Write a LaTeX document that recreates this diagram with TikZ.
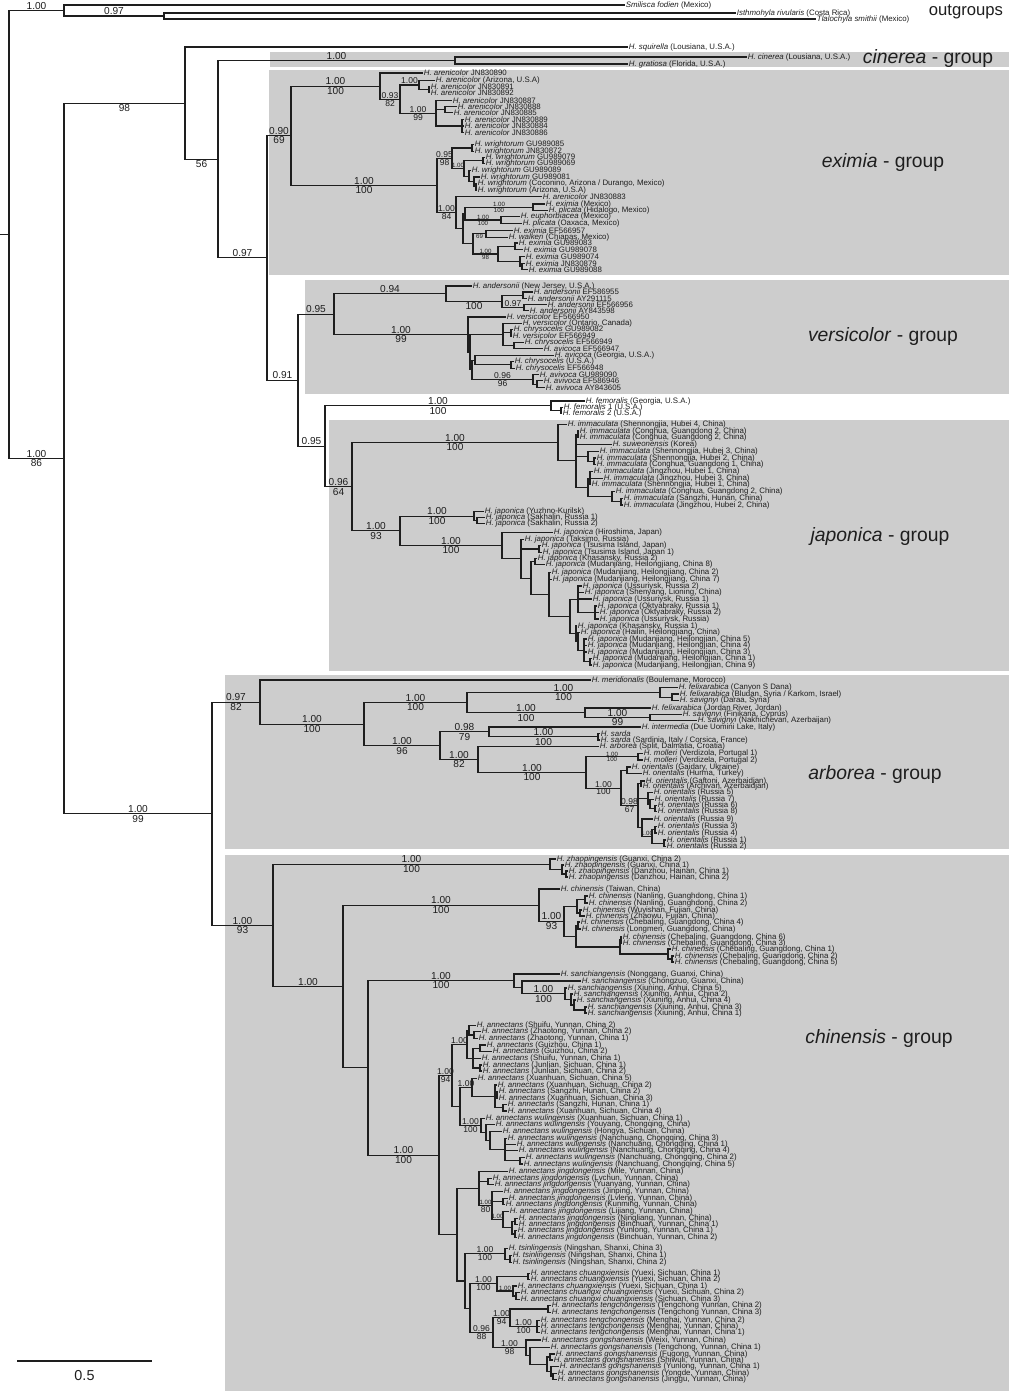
\documentclass[tikz,border=0pt]{standalone}
\usepackage{fontspec}
\setmainfont{Liberation Sans}
\usetikzlibrary{calc}
\definecolor{boxgray}{RGB}{205,205,205}
\definecolor{ink}{RGB}{30,30,30}

\tikzset{
  branch/.style={draw=ink, line width=0.8pt},
  leaf/.style={anchor=west, inner sep=0.5pt, text=ink, font=\fontsize{5.9}{6.5}\selectfont},
  bv/.style={inner sep=0.7pt, text=ink, font=\fontsize{7.6}{8}\selectfont},
  mv/.style={inner sep=0.5pt, text=ink, font=\fontsize{6.4}{7}\selectfont},
  sv/.style={inner sep=0.4pt, text=ink, font=\fontsize{4.6}{5}\selectfont},
  grp/.style={text=ink, font=\fontsize{14.5}{17}\selectfont},
  groupbox/.style={fill=boxgray, draw=none}
}

% leaf: name, x, y, italic part, rest
\newcommand\tip[5]{\coordinate (#1) at (#2,#3); \node[leaf] (#1-l) at (#1) {\textit{#4} #5};}
% clade: name, x, first child, last child (y halfway)
\newcommand\clade[4]{\coordinate (#1-m) at ($(#3)!.5!(#4)$); \coordinate (#1) at (#1-m -| #2,0); \draw[branch] (#3) -| (#1) |- (#4);}
% extra child hanging on a clade
\newcommand\twig[2]{\draw[branch] (#1) |- (#2);}
% support values on a branch: [style] parent, child, above, below
\newcommand\bsv[5][bv]{\path ($(#2|-#3)!.5!(#3)$) node[#1,above] (#3-a) {#4} node[#1,below] (#3-b) {#5};}

\begin{document}
\begin{tikzpicture}[x=0.75pt,y=0.75pt,yscale=-1,xscale=1]
\useasboundingbox (0,0) rectangle (1010,1392);

%Group boxes
\fill[groupbox] (270,52) rectangle (1009,67);
\fill[groupbox] (269,70) rectangle (1009,275);
\fill[groupbox] (305,280) rectangle (1009,394);
\fill[groupbox] (329,420) rectangle (1009,671);
\fill[groupbox] (225,675) rectangle (1009,849);
\fill[groupbox] (225,855) rectangle (1009,1391);

%Outgroups
\tip{o1}{625}{5}{Smilisca fodien}{(Mexico)}
\tip{o2}{736}{13}{Isthmohyla rivularis}{(Costa Rica)}
\tip{o3}{816}{19}{Tlalochyla smithii}{(Mexico)}
\clade{og1}{164}{o2}{o3}
\clade{og}{64}{o1}{og1}

%cinerea
\tip{sq}{628}{47}{H. squirella}{(Lousiana, U.S.A.)}
\tip{ci}{747}{57}{H. cinerea}{(Lousiana, U.S.A.)}
\tip{gr}{628}{64}{H. gratiosa}{(Florida, U.S.A.)}
\clade{cin}{455}{ci}{gr}

%eximia
\tip{e1}{423}{73}{H. arenicolor}{JN830890}
\tip{e2}{435}{80.3}{H. arenicolor}{(Arizona, U.S.A)}
\tip{e3}{430}{86.7}{H. arenicolor}{JN830891}
\tip{e4}{430}{92.7}{H. arenicolor}{JN830892}
\tip{e5}{452}{100.7}{H. arenicolor}{JN830887}
\tip{e6}{457}{106.3}{H. arenicolor}{JN830888}
\tip{e7}{453}{112.7}{H. arenicolor}{JN830885}
\tip{e8}{464}{119.7}{H. arenicolor}{JN830889}
\tip{e9}{464}{126}{H. arenicolor}{JN830884}
\tip{e10}{464}{132.3}{H. arenicolor}{JN830886}
\tip{e11}{474}{144.7}{H. wrightorum}{GU989085}
\tip{e12}{474}{151.3}{H. wrightorum}{JN830872}
\tip{e13}{485}{157.3}{H. wrightorum}{GU989079}
\tip{e14}{485}{163.7}{H. wrightorum}{GU989069}
\tip{e15}{471}{170.3}{H. wrightorum}{GU989089}
\tip{e16}{480}{177}{H. wrightorum}{GU989081}
\tip{e17}{477}{183.7}{H. wrightorum}{(Coconino, Arizona / Durango, Mexico)}
\tip{e18}{477}{190}{H. wrightorum}{(Arizona, U.S.A)}
\tip{e19}{542}{196.3}{H. arenicolor}{JN830883}
\tip{e20}{545}{204}{H. eximia}{(Mexico)}
\tip{e21}{548}{210.7}{H. plicata}{(Hidalogo, Mexico)}
\tip{e22}{520}{216.7}{H. euphorbiacea}{(Mexico)}
\tip{e23}{522}{223.3}{H. plicata}{(Oaxaca, Mexico)}
\tip{e24}{513}{230.3}{H. eximia}{EF566957}
\tip{e25}{508}{237.3}{H. walkeri}{(Chiapas, Mexico)}
\tip{e26}{518}{243}{H. eximia}{GU989083}
\tip{e27}{523}{249.7}{H. eximia}{GU989078}
\tip{e28}{525}{256.7}{H. eximia}{GU989074}
\tip{e29}{525}{263.3}{H. eximia}{JN830879}
\tip{e30}{528}{269.7}{H. eximia}{GU989088}
\clade{exc2}{429}{e3}{e4}
\clade{exc}{419}{e2}{exc2}
\clade{exf}{445}{e6}{e7}
\clade{exg}{462}{e8}{e10} \twig{exg}{e9}
\clade{exd}{436}{e5}{exg} \twig{exd}{exf}
\clade{exb}{400}{exc}{exd}
\clade{exa}{380}{e1}{exb}
\clade{wr1}{472}{e11}{e12}
\clade{wr3}{483}{e13}{e14}
\clade{wr6}{476}{e17}{e18}
\clade{wr5}{474}{e16}{wr6}
\clade{wr4}{469}{e15}{wr5}
\clade{wr2}{464}{wr3}{wr4}
\clade{wr}{452}{wr1}{wr2}
\clade{em4}{533}{e20}{e21}
\clade{em5}{501}{e22}{e23}
\clade{em3}{465}{em4}{em5}
\clade{em7}{486}{e24}{e25}
\clade{em9}{515}{e26}{e27}
\clade{em11}{522}{e29}{e30}
\clade{em10}{520}{e28}{em11}
\clade{em8}{498}{em9}{em10}
\clade{em6}{473}{em7}{em8}
\clade{em2}{463}{em3}{em6}
\clade{emx}{456}{e19}{em2}
\clade{exw}{437}{wr}{emx}
\clade{ext}{291}{exa}{exw}

%versicolor
\tip{v1}{472}{286}{H. andersonii}{(New Jersey, U.S.A.)}
\tip{v2}{533}{292}{H. andersonii}{EF586955}
\tip{v3}{527}{298.2}{H. andersonii}{AY291115}
\tip{v4}{547}{304.4}{H. andersonii}{EF566956}
\tip{v5}{529}{310.6}{H. andersonii}{AY843598}
\tip{v6}{506}{317}{H. versicolor}{EF566950}
\tip{v7}{522}{323.3}{H. versicolor}{(Ontario, Canada)}
\tip{v8}{513}{329.7}{H. chrysocelis}{GU989082}
\tip{v9}{512}{336.1}{H. versicolor}{EF566949}
\tip{v10}{524}{342.5}{H. chrysocelis}{EF566949}
\tip{v11}{543}{348.9}{H. avicoca}{EF566947}
\tip{v12}{554}{355.3}{H. avicoca}{(Georgia, U.S.A.)}
\tip{v13}{514}{361.7}{H. chrysocelis}{(U.S.A.)}
\tip{v14}{515}{368.1}{H. chrysocelis}{EF566948}
\tip{v15}{539}{374.5}{H. avivoca}{GU989090}
\tip{v16}{543}{380.9}{H. avivoca}{EF586946}
\tip{v17}{545}{387.3}{H. avivoca}{AY843605}
\clade{an3v}{523}{v2}{v3}
\clade{an4v}{524}{v4}{v5}
\clade{an2v}{502}{an3v}{an4v}
\clade{anv}{446}{v1}{an2v}
\clade{vA1b}{511}{v8}{v9}
\clade{vA1c}{514}{v10}{v11}
\clade{vA1}{503}{v7}{vA1c} \twig{vA1}{vA1b}
\clade{vA2p}{511}{v13}{v14}
\clade{vA2}{475}{v12}{vA2p}
\clade{vsB2}{537}{v16}{v17}
\clade{vsB}{533}{v15}{vsB2}
\clade{vsR2}{472}{vA2}{vsB}
\clade{vsR}{470}{vA1}{vsR2}
\clade{vs}{468}{v6}{vsR}
\clade{vg}{334}{anv}{vs}

%femoralis
\tip{f1}{585}{401}{H. femoralis}{(Georgia, U.S.A.)}
\tip{f2}{563}{407.3}{H. femoralis}{1 (U.S.A.)}
\tip{f3}{562}{413.7}{H. femoralis}{2 (U.S.A.)}
\clade{fe2}{561}{f2}{f3}
\clade{fe}{551}{f1}{fe2}

%japonica
\tip{i1}{567}{424.3}{H. immaculata}{(Shennongjia, Hubei 4, China)}
\tip{i2}{579}{431}{H. immaculata}{(Conghua, Guangdong 2, China)}
\tip{i3}{579}{437.8}{H. immaculata}{(Conghua, Guangdong 2, China)}
\tip{i4}{612}{444.5}{H. suweonensis}{(Korea)}
\tip{i5}{599}{451.2}{H. immaculata}{(Shennongjia, Hubej 3, China)}
\tip{i6}{596}{458}{H. immaculata}{(Shennongjia, Hubei 2, China)}
\tip{i7}{596}{464.7}{H. immaculata}{(Conghua, Guangdong 1, China)}
\tip{i8}{593}{471.4}{H. immaculata}{(Jingzhou, Hubei 1, China)}
\tip{i9}{603}{478.1}{H. immaculata}{(Jingzhou, Hubei 3, China)}
\tip{i10}{591}{484.9}{H. immaculata}{(Shennongjia, Hubei 1, China)}
\tip{i11}{615}{491.6}{H. immaculata}{(Conghua, Guangdong 2, China)}
\tip{i12}{623}{498.3}{H. immaculata}{(Sangzhi, Hunan, China)}
\tip{i13}{623}{505}{H. immaculata}{(Jingzhou, Hubei 2, China)}
\clade{im3}{578}{i2}{i3}
\clade{im4b}{594}{i6}{i7}
\clade{im4}{588}{i5}{im4b}
\clade{im5}{590}{i8}{i10} \twig{im5}{i9}
\clade{im7}{621}{i12}{i13}
\clade{im6}{612}{i11}{im7}
\clade{im8}{588}{im5}{im6}
\clade{im2}{576}{im3}{im8} \twig{im2}{i4} \twig{im2}{im4}
\clade{im}{558}{i1}{im2}

\tip{j1}{484}{511.7}{H. japonica}{(Yuzhno-Kurilsk)}
\tip{j2}{485}{517.7}{H. japonica}{(Sakhalin, Russia 1)}
\tip{j3}{485}{523.7}{H. japonica}{(Sakhalin, Russia 2)}
\tip{j4}{553}{532.7}{H. japonica}{(Hiroshima, Japan)}
\tip{j5}{524}{539.3}{H. japonica}{(Taksimo, Russia)}
\tip{j6}{541}{545.7}{H. japonica}{(Tsusima Island, Japan)}
\tip{j7}{542}{552.3}{H. japonica}{(Tsusima Island, Japan 1)}
\tip{j8}{537}{558.7}{H. japonica}{(Khasansky, Russia 2)}
\tip{j9}{545}{564.7}{H. japonica}{(Mudanjiang, Heilongjiang, China 8)}
\tip{j10}{551}{572.7}{H. japonica}{(Mudanjiang, Heilongjiang, China 2)}
\tip{j11}{552}{579.3}{H. japonica}{(Mudanjiang, Heilongjiang, China 7)}
\tip{j12}{582}{586}{H. japonica}{(Ussuriysk, Russia 2)}
\tip{j13}{584}{592.3}{H. japonica}{(Shenyang, Lioning, China)}
\tip{j14}{592}{599}{H. japonica}{(Ussuriysk, Russia 1)}
\tip{j15}{597}{606}{H. japonica}{(Oktyabraky, Russia 1)}
\tip{j16}{599}{612.3}{H. japonica}{(Oktyabraky, Russia 2)}
\tip{j17}{599}{619}{H. japonica}{(Ussuriysk, Russia)}
\tip{j18}{577}{626}{H. japonica}{(Khasansky, Russia 1)}
\tip{j19}{580}{632.3}{H. japonica}{(Hailin, Heilongjiang, China)}
\tip{j20}{587}{639}{H. japonica}{(Mudanjiang, Heilongjian, China 5)}
\tip{j21}{587}{645.3}{H. japonica}{(Mudanjiang, Heilongjian, China 4)}
\tip{j22}{587}{652}{H. japonica}{(Mudanjiang, Heilongjian, China 3)}
\tip{j23}{592}{658.7}{H. japonica}{(Mudanjiang, Heilongjian, China 1)}
\tip{j24}{592}{665}{H. japonica}{(Mudanjiang, Heilongjian, China 9)}
\clade{jp1b}{477}{j2}{j3}
\clade{jp1}{474}{j1}{jp1b}
\clade{jp3a}{539}{j6}{j7}
\clade{jp5a}{535}{j8}{j9}
\clade{jp8c}{595}{j15}{j17} \twig{jp8c}{j16}
\clade{jp8}{578}{j12}{jp8c} \twig{jp8}{j13} \twig{jp8}{j14}
\clade{jp9c}{590}{j23}{j24}
\clade{jp9b}{584}{j20}{jp9c} \twig{jp9b}{j21} \twig{jp9b}{j22}
\clade{jp9a}{578}{j19}{jp9b}
\clade{jp9}{576}{j18}{jp9a}
\clade{jp7}{570}{jp8}{jp9}
\clade{jp6}{549}{j10}{jp7} \twig{jp6}{j11}
\clade{jp5}{531}{jp5a}{jp6}
\clade{jp3}{521}{j5}{jp5} \twig{jp3}{jp3a}
\clade{jp2}{502}{j4}{jp3}
\clade{jp}{400}{jp1}{jp2}
\clade{jap}{352}{im}{jp}
\clade{jfem}{325}{fe}{jap}

%arborea
\tip{a1}{591}{680}{H. meridionalis}{(Boulemane, Morocco)}
\tip{a2}{678}{687.3}{H. felixarabica}{(Canyon S Dana)}
\tip{a3}{679}{694}{H. felixarabica}{(Bludan, Syria / Karkom, Israel)}
\tip{a4}{679}{700.7}{H. savignyi}{(Daraa, Syria)}
\tip{a5}{651}{708}{H. felixarabica}{(Jordan River, Jordan)}
\tip{a6}{682}{714.3}{H. savignyi}{(Finikaria, Cyprus)}
\tip{a7}{697}{720.7}{H. savignyi}{(Nakhichevan, Azerbaijan)}
\tip{a8}{641}{727}{H. intermedia}{(Due Uomini Lake, Italy)}
\tip{a9}{600}{733.7}{H. sarda}{}
\tip{a10}{600}{740}{H. sarda}{(Sardinia, Italy / Corsica, France)}
\tip{a11}{599}{746.7}{H. arborea}{(Split, Dalmatia, Croatia)}
\tip{a12}{643}{753.7}{H. molleri}{(Verdizola, Portugal 1)}
\tip{a13}{643}{760}{H. molleri}{(Verdizela, Portugal 2)}
\tip{a14}{631}{767}{H. orientalis}{(Gaidary, Ukraine)}
\tip{a15}{642}{773.7}{H. orientalis}{(Hurma, Turkey)}
\tip{a16}{645}{781}{H. orientalis}{(Gaftoni, Azerbaidjan)}
\tip{a17}{642}{786.7}{H. orientalis}{(Archivan, Azerbaidjan)}
\tip{a18}{653}{792.7}{H. orientalis}{(Russia 5)}
\tip{a19}{654}{799.3}{H. orientalis}{(Russia 7)}
\tip{a20}{657}{805.7}{H. orientalis}{(Russia 6)}
\tip{a21}{657}{811.7}{H. orientalis}{(Russia 8)}
\tip{a22}{653}{819}{H. orientalis}{(Russia 9)}
\tip{a23}{657}{826.7}{H. orientalis}{(Russia 3)}
\tip{a24}{657}{833}{H. orientalis}{(Russia 4)}
\tip{a25}{666}{840}{H. orientalis}{(Russia 1)}
\tip{a26}{666}{846.7}{H. orientalis}{(Russia 2)}
\clade{ar3a2}{672}{a3}{a4}
\clade{ar3a}{660}{a2}{ar3a2}
\clade{ar3b2}{650}{a6}{a7}
\clade{ar3b}{585}{a5}{ar3b2}
\clade{ar3}{467}{ar3a}{ar3b}
\clade{ar5b}{598}{a9}{a10}
\clade{ar5}{489}{a8}{ar5b}
\clade{ar7a}{638}{a12}{a13}
\clade{ar8}{627}{a14}{a15}
\clade{ar9a}{641}{a16}{a17}
\clade{ar9b3}{655}{a20}{a21}
\clade{ar9b2}{650}{a19}{ar9b3}
\clade{ar9b}{648}{a18}{ar9b2}
\clade{ar9c3}{655}{a23}{a24}
\clade{ar9c4}{664}{a25}{a26}
\clade{ar9c2}{652}{ar9c3}{ar9c4}
\clade{ar9c}{642}{a22}{ar9c2}
\clade{ar9}{638}{ar9a}{ar9c} \twig{ar9}{ar9b}
\clade{ar7b}{621}{ar8}{ar9}
\clade{ar7}{586}{ar7a}{ar7b}
\clade{ar6}{478}{a11}{ar7}
\clade{ar4}{440}{ar5}{ar6}
\clade{ar2}{364}{ar3}{ar4}
\clade{ar}{260}{a1}{ar2}

%chinensis
\tip{z1}{556}{859}{H. zhaopingensis}{(Guanxi, China 2)}
\tip{z2}{564}{865}{H. zhaopingensis}{(Guanxi, China 1)}
\tip{z3}{568}{871}{H. zhaopingensis}{(Danzhou, Hainan, China 1)}
\tip{z4}{568}{877}{H. zhaopingensis}{(Danzhou, Hainan, China 2)}
\clade{zC}{566}{z3}{z4}
\clade{zB}{562}{z2}{zC}
\clade{zA}{550}{z1}{zB}

\tip{c1}{560}{889}{H. chinensis}{(Taiwan, China)}
\tip{c2}{588}{896}{H. chinensis}{(Nanling, Guanghdong, China 1)}
\tip{c3}{588}{903}{H. chinensis}{(Nanling, Guanghdong, China 2)}
\tip{c4}{582}{910}{H. chinensis}{(Wuyishan, Fujian, China)}
\tip{c5}{585}{916}{H. chinensis}{(Zhaowu, Fujian, China)}
\tip{c6}{580}{922}{H. chinensis}{(Chebaling, Guangdong, China 4)}
\tip{c7}{581}{929}{H. chinensis}{(Longmen, Guangdong, China)}
\tip{c8}{622}{937}{H. chinensis}{(Chebaling, Guangdong, China 6)}
\tip{c9}{622}{943}{H. chinensis}{(Chebaling, Guangdong, China 3)}
\tip{c10}{671}{949}{H. chinensis}{(Chebaling, Guangdong, China 1)}
\tip{c11}{674}{956}{H. chinensis}{(Chebaling, Guangdong, China 2)}
\tip{c12}{674}{962}{H. chinensis}{(Chebaling, Guangdong, China 5)}
\clade{cn2a}{585}{c2}{c3}
\clade{cn2b}{580}{c4}{c5}
\clade{cn2}{577}{cn2a}{cn2b}
\clade{cn3a}{578}{c6}{c7}
\clade{cn3c}{621}{c8}{c9}
\clade{cn3e}{672}{c11}{c12}
\clade{cn3d}{668}{c10}{cn3e}
\clade{cn3b}{620}{cn3c}{cn3d}
\clade{cn3}{576}{cn3a}{cn3b}
\clade{cn1}{564}{cn2}{cn3}
\clade{cn0}{539}{c1}{cn1}

\tip{s1}{560}{974}{H. sanchiangensis}{(Nonggang, Guanxi, China)}
\tip{s2}{581}{981}{H. sanchiangensis}{(Chongzuo, Guanxi, China)}
\tip{s3}{567}{988}{H. sanchiangensis}{(Xiuning, Anhui, China 5)}
\tip{s4}{573}{994}{H. sanchiangensis}{(Xiuning, Anhui, China 2)}
\tip{s5}{576}{1000}{H. sanchiangensis}{(Xiuning, Anhui, China 4)}
\tip{s6}{587}{1007}{H. sanchiangensis}{(Xiuning, Anhui, China 3)}
\tip{s7}{587}{1013}{H. sanchiangensis}{(Xiuning, Anhui, China 1)}
\clade{S5}{585}{s6}{s7}
\clade{S4}{574}{s5}{S5}
\clade{S3}{571}{s4}{S4}
\clade{S2}{565}{s3}{S3}
\clade{S1}{522}{s2}{S2}
\clade{S0}{514}{s1}{S1}

\tip{h1}{476}{1025.7}{H. annectans}{(Shuifu, Yunnan, China 2)}
\tip{h2}{481}{1031.7}{H. annectans}{(Zhaotong, Yunnan, China 2)}
\tip{h3}{478}{1038.3}{H. annectans}{(Zhaotong, Yunnan, China 1)}
\tip{h4}{486}{1045}{H. annectans}{(Guizhou, China 1)}
\tip{h5}{492}{1051.7}{H. annectans}{(Guizhou, China 2)}
\tip{h6}{481}{1058.3}{H. annectans}{(Shuifu, Yunnan, China 1)}
\tip{h7}{482}{1065}{H. annectans}{(Junlian, Sichuan, China 1)}
\tip{h8}{482}{1071}{H. annectans}{(Junlian, Sichuan, China 2)}
\tip{h9}{477}{1078.3}{H. annectans}{(Xuanhuan, Sichuan, China 5)}
\tip{h10}{497}{1085}{H. annectans}{(Xuanhuan, Sichuan, China 2)}
\tip{h11}{498}{1091.7}{H. annectans}{(Sangzhi, Hunan, China 2)}
\tip{h12}{498}{1098.3}{H. annectans}{(Xuanhuan, Sichuan, China 3)}
\tip{h13}{507}{1104.7}{H. annectans}{(Sangzhi, Hunan, China 1)}
\tip{h14}{507}{1111}{H. annectans}{(Xuanhuan, Sichuan, China 4)}
\tip{h15}{485}{1118.3}{H. annectans wulingensis}{(Xuanhuan, Sichuan, China 1)}
\tip{h16}{495}{1124.3}{H. annectans wulingensis}{(Youyang, Chongqing, China)}
\tip{h17}{502}{1131.7}{H. annectans wulingensis}{(Hongya, Sichuan, China)}
\tip{h18}{507}{1138.3}{H. annectans wulingensis}{(Nanchuang, Chongqing, China 3)}
\tip{h19}{516}{1144.3}{H. annectans wulingensis}{(Nanchuang, Chongqing, China 1)}
\tip{h20}{518}{1150.7}{H. annectans wulingensis}{(Nanchuang, Chongqing, China 4)}
\tip{h21}{525}{1157.3}{H. annectans wulingensis}{(Nanchuang, Chongqing, China 2)}
\tip{h22}{523}{1164}{H. annectans wulingensis}{(Nanchuang, Chongqing, China 5)}
\tip{h23}{508}{1171.7}{H. annectans jingdongensis}{(Mile, Yunnan, China)}
\tip{h24}{492}{1178.3}{H. annectans jingdongensis}{(Lvchun, Yunnan, China)}
\tip{h25}{494}{1184.7}{H. annectans jingdongensis}{(Yuanyang, Yunnan, China)}
\tip{h26}{503}{1191.7}{H. annectans jingdongensis}{(Jinping, Yunnan, China)}
\tip{h27}{508}{1198.3}{H. annectans jingdongensis}{(Lvleng, Yunnan, China)}
\tip{h28}{505}{1204.7}{H. annectans jingdongensis}{(Kunming, Yunnan, China)}
\tip{h29}{509}{1211.3}{H. annectans jingdongensis}{(Lijiang, Yunnan, China)}
\tip{h30}{518}{1218.3}{H. annectans jingdongensis}{(Ningliang, Yunnan, China)}
\tip{h31}{518}{1224.7}{H. annectans jingdongensis}{(Binchuan, Yunnan, China 1)}
\tip{h32}{517}{1230.7}{H. annectans jingdongensis}{(Yunlong, Yunnan, China 1)}
\tip{h33}{517}{1237.3}{H. annectans jingdongensis}{(Binchuan, Yunnan, China 2)}
\tip{h34}{508}{1248.3}{H. tsinlingensis}{(Ningshan, Shanxi, China 3)}
\tip{h35}{512}{1255.7}{H. tsinlingensis}{(Ningshan, Shanxi, China 1)}
\tip{h36}{512}{1262.7}{H. tsinlingensis}{(Ningshan, Shanxi, China 2)}
\tip{h37}{530}{1273.3}{H. annectans chuangxiensis}{(Yuexi, Sichuan, China 1)}
\tip{h38}{530}{1279.3}{H. annectans chuangxiensis}{(Yuexi, Sichuan, China 2)}
\tip{h39}{517}{1286}{H. annectans chuangxiensis}{(Yuexi, Sichuan, China 1)}
\tip{h40}{520}{1292.7}{H. annectans chuangxi chuangxiensis}{(Yuexi, Sichuan, China 2)}
\tip{h41}{520}{1299.3}{H. annectans chuangxi chuangxiensis}{(Sichuan, China 3)}
\tip{h42}{551}{1305.7}{H. annectans tengchongensis}{(Tengchong Yunnan, China 2)}
\tip{h43}{551}{1312.3}{H. annectans tengchongensis}{(Tengchong Yunnan, China 3)}
\tip{h44}{540}{1320.7}{H. annectans tengchongensis}{(Menghai, Yunnan, China 2)}
\tip{h45}{540}{1326.7}{H. annectans tengchongensis}{(Menghai, Yunnan, China)}
\tip{h46}{540}{1332.7}{H. annectans tengchongensis}{(Menghai, Yunnan, China 1)}
\tip{h47}{541}{1340}{H. annectans gongshanensis}{(Weixi, Yunnan, China)}
\tip{h48}{550}{1347.3}{H. annectans gongshanensis}{(Tengchong, Yunnan, China 1)}
\tip{h49}{555}{1354}{H. annectans gongshanensis}{(Fugong, Yunnan, China)}
\tip{h50}{553}{1360}{H. annectans gongshanensis}{(Shiwuli, Yunnan, China)}
\tip{h51}{559}{1366.7}{H. annectans gongshanensis}{(Yunlong, Yunnan, China 1)}
\tip{h52}{557}{1373.3}{H. annectans gongshanensis}{(Yongde, Yunnan, China)}
\tip{h53}{557}{1379.3}{H. annectans gongshanensis}{(Jinggu, Yunnan, China)}
\clade{an1a2}{474}{h2}{h3}
\clade{an1a}{469}{h1}{an1a2}
\clade{an1b1}{480}{h4}{h5}
\clade{an1b2}{480}{h7}{h8}
\clade{an1b}{473}{an1b1}{an1b2} \twig{an1b}{h6}
\clade{an1}{467}{an1a}{an1b}
\clade{an2a3}{497}{h11}{h12}
\clade{an2a4}{503}{h13}{h14}
\clade{an2a2}{495}{h10}{an2a4} \twig{an2a2}{an2a3}
\clade{an2a}{472}{h9}{an2a2}
\clade{an2b5}{520}{h21}{h22}
\clade{an2b4}{505}{h18}{an2b5} \twig{an2b4}{h19} \twig{an2b4}{h20}
\clade{an2b3}{490}{h17}{an2b4}
\clade{an2b2}{486}{h16}{an2b3}
\clade{an2b}{481}{h15}{an2b2}
\clade{an2}{460}{an2a}{an2b}
\clade{an3}{452}{an1}{an2}
\clade{jdLY}{488}{h24}{h25}
\clade{jd3}{503}{h27}{h28}
\clade{jd5a}{515}{h30}{h31}
\clade{jd5b}{515}{h32}{h33}
\clade{jd5}{512}{jd5a}{jd5b}
\clade{jd4}{503}{h29}{jd5}
\clade{jd2}{492}{h26}{jd4} \twig{jd2}{jd3}
\clade{jd}{479}{h23}{jd2} \twig{jd}{jdLY}
\clade{ts2}{510}{h35}{h36}
\clade{ts}{505}{h34}{ts2}
\clade{ch1a}{528}{h37}{h38}
\clade{ch1b2}{516}{h40}{h41}
\clade{ch1b}{513}{h39}{ch1b2}
\clade{ch1}{497}{ch1a}{ch1b}
\clade{te1}{548}{h42}{h43}
\clade{te2}{537}{h44}{h46} \twig{te2}{h45}
\clade{te}{510}{te1}{te2}
\clade{go6}{553}{h52}{h53}
\clade{go5}{551}{h51}{go6}
\clade{go4}{550}{h49}{h50}
\clade{go3}{547}{go4}{go5}
\clade{go2}{530}{h48}{go3}
\clade{go}{526}{h47}{go2}
\clade{tg}{493}{te}{go}
\clade{n470}{470}{ch1}{tg}
\clade{n465}{465}{ts}{n470}
\clade{n457}{457}{jd}{n465}
\clade{n439}{439}{an3}{n457}
\clade{n368}{368}{S0}{n439}
\clade{n343}{343}{cn0}{n368}
\clade{n273}{273}{zA}{n343}

%Backbone
\clade{n298}{298}{vg}{jfem}
\clade{n267}{267}{ext}{n298}
\clade{n218}{218}{cin}{n267}
\clade{n185}{185}{sq}{n218}
\clade{n212}{212}{ar}{n273}
\clade{n64}{64}{n185}{n212}
\clade{root}{9}{og}{n64}
\coordinate (base) at (0,0 |- root);
\draw[branch] (base) -- (root);

%Support values
\bsv{root}{og}{1.00}{}
\bsv{og}{og1}{0.97}{}
\bsv{root}{n64}{1.00}{86}
\bsv{n64}{n185}{}{98}
\bsv{n185}{n218}{}{56}
\bsv{n218}{cin}{1.00}{}
\bsv{n218}{n267}{0.97}{}
\bsv{n267}{ext}{0.90}{69}
\bsv{ext}{exa}{1.00}{100}
\bsv[mv]{exa}{exb}{0.93}{82}
\bsv[mv]{exb}{exc}{1.00}{}
\bsv[mv]{exb}{exd}{1.00}{99}
\bsv{ext}{exw}{1.00}{100}
\bsv[mv]{exw}{wr}{0.95}{98}
\bsv[sv]{wr}{wr2}{1.00}{}
\bsv[mv]{exw}{emx}{1.00}{84}
\bsv[sv]{em3}{em4}{1.00}{100}
\bsv[sv]{em3}{em5}{1.00}{100}
\bsv[sv]{em6}{em7}{}{69}
\bsv[sv]{em6}{em8}{1.00}{98}
\bsv{n267}{n298}{0.91}{}
\bsv{n298}{vg}{0.95}{}
\bsv{vg}{anv}{0.94}{}
\bsv{anv}{an2v}{}{100}
\bsv[mv]{an2v}{an4v}{0.97}{}
\bsv{vg}{vs}{1.00}{99}
\bsv[mv]{vsR2}{vsB}{0.96}{96}
\bsv{n298}{jfem}{0.95}{}
\bsv{jfem}{fe}{1.00}{100}
\bsv{jfem}{jap}{0.96}{64}
\bsv{jap}{im}{1.00}{100}
\bsv{jap}{jp}{1.00}{93}
\bsv{jp}{jp1}{1.00}{100}
\bsv{jp}{jp2}{1.00}{100}
\bsv{n64}{n212}{1.00}{99}
\bsv{n212}{ar}{0.97}{82}
\bsv{ar}{ar2}{1.00}{100}
\bsv{ar2}{ar3}{1.00}{100}
\bsv{ar3}{ar3a}{1.00}{100}
\bsv{ar3}{ar3b}{1.00}{100}
\bsv{ar3b}{ar3b2}{1.00}{99}
\bsv{ar2}{ar4}{1.00}{96}
\bsv{ar4}{ar5}{0.98}{79}
\bsv{ar5}{ar5b}{1.00}{100}
\bsv{ar4}{ar6}{1.00}{82}
\bsv{ar6}{ar7}{1.00}{100}
\bsv[sv]{ar7}{ar7a}{1.00}{100}
\bsv[mv]{ar7}{ar7b}{1.00}{100}
\bsv[mv]{ar7b}{ar9}{0.98}{67}
\bsv[sv]{ar9c}{ar9c2}{1.00}{}
\bsv{n212}{n273}{1.00}{93}
\bsv{n273}{zA}{1.00}{100}
\bsv{n273}{n343}{1.00}{}
\bsv{n343}{cn0}{1.00}{100}
\bsv{cn0}{cn1}{1.00}{93}
\bsv{n368}{S0}{1.00}{100}
\bsv{S1}{S2}{1.00}{100}
\bsv{n368}{n439}{1.00}{100}
\bsv[mv]{n439}{an3}{1.00}{94}
\bsv[mv]{an3}{an1}{1.00}{}
\bsv[mv]{an2}{an2a}{1.00}{}
\bsv[mv]{an2}{an2b}{1.00}{100}
\bsv[sv]{jd}{jd2}{1.00}{}
\bsv[mv]{jd}{jd2}{}{80}
\bsv[sv]{jd2}{jd4}{1.00}{}
\bsv[mv]{n465}{ts}{1.00}{100}
\bsv[mv]{n470}{ch1}{1.00}{100}
\bsv[sv]{ch1}{ch1b}{1.00}{}
\bsv[mv]{n470}{tg}{0.96}{88}
\bsv[mv]{tg}{te}{1.00}{94}
\bsv[mv]{te}{te2}{1.00}{100}
\bsv[mv]{tg}{go}{1.00}{98}

%Group names
\node[grp, font=\fontsize{12.5}{14}\selectfont] (g-out) at (966,12) {outgroups};
\node[grp] (g-cin) at (928,59) {\textit{cinerea} - group};
\node[grp] (g-exi) at (883,162) {\textit{eximia} - group};
\node[grp] (g-ver) at (883,336) {\textit{versicolor} - group};
\node[grp] (g-jap) at (880,536) {\textit{japonica} - group};
\node[grp] (g-arb) at (875,774) {\textit{arborea} - group};
\node[grp] (g-chi) at (879,1038) {\textit{chinensis} - group};

%Scale bar
\coordinate (sbl) at (17,1361);
\coordinate (sbr) at (152,1361);
\draw[ink, line width=2.2pt] (sbl) -- (sbr);
\node[text=ink, font=\fontsize{10.8}{12}\selectfont] (sbt) at (84.5,1376) {0.5};

\end{tikzpicture}
\end{document}
